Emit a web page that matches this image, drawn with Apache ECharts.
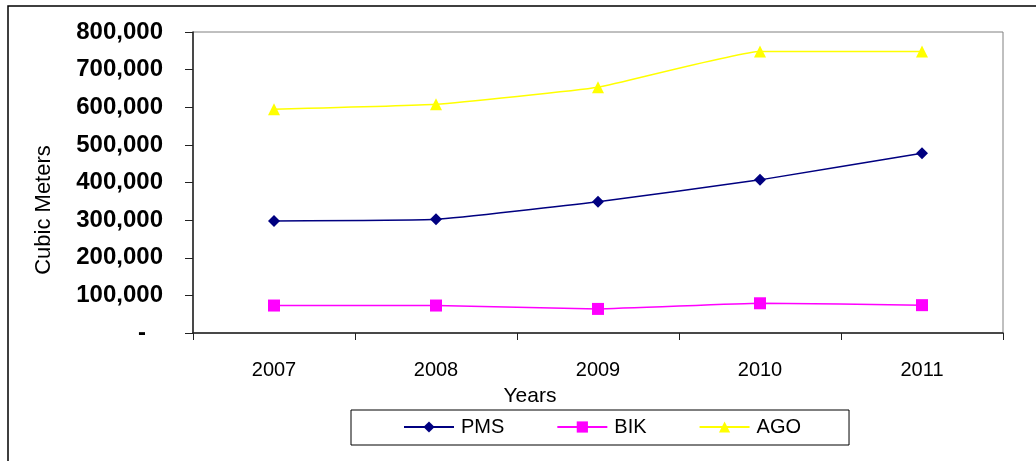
<!DOCTYPE html>
<html>
<head>
<meta charset="utf-8">
<script src="https://cdn.jsdelivr.net/npm/echarts@6/dist/echarts.min.js"></script>
<style>
  html, body { margin: 0; padding: 0; background: #fff; }
  #main { width: 1036px; height: 461px; }
</style>
</head>
<body>
<div id="main"></div>
<script>
// values (cubic meters)
const years = ['2007', '2008', '2009', '2010', '2011'];
const pms = [298000, 302000, 349000, 407000, 478000];
const bik = [73000, 73000, 64000, 79000, 74000];
const ago = [595000, 608000, 653000, 748000, 748000];

const font = 'Liberation Sans, Arial, sans-serif';

const chart = echarts.init(document.getElementById('main'));

function lineSeries(name, data, color, symbol) {
    return {
        name: name,
        type: 'line',
        data: data,
        smooth: 0.12,
        symbol: symbol,
        symbolSize: 12,
        lineStyle: { color: color, width: 1.5 },
        itemStyle: { color: color },
        emphasis: { disabled: true }
    };
}

chart.setOption({
    animation: false,
    backgroundColor: '#fff',
    grid: {
        left: 193, right: 33, top: 32, bottom: 128,
        containLabel: false,
        outerBoundsMode: 'none',
        show: true,
        borderColor: '#808080',
        borderWidth: 1
    },
    xAxis: {
        type: 'category',
        data: years,
        boundaryGap: true,
        axisLine: { lineStyle: { color: '#222', width: 1.5 } },
        axisTick: { show: true, length: 7, lineStyle: { color: '#222' } },
        axisLabel: {
            color: '#000', fontFamily: font, fontSize: 20,
            margin: 27, lineHeight: 20
        }
    },
    yAxis: {
        type: 'value',
        min: 0,
        max: 800000,
        interval: 100000,
        splitLine: { show: false },
        axisLine: { show: true, lineStyle: { color: '#222', width: 1.5 } },
        axisTick: { show: true, length: 8, lineStyle: { color: '#222' } },
        axisLabel: {
            color: '#000', fontFamily: font, fontSize: 24, fontWeight: 'bold',
            margin: 30,
            formatter: function (v) {
                if (v === 0) return '{dash|-}';
                return v.toLocaleString('en-US');
            },
            rich: {
                dash: {
                    fontFamily: font, fontSize: 24, fontWeight: 'bold',
                    color: '#000', padding: [0, 17, 0, 0]
                }
            }
        }
    },
    legend: {
        left: 351,
        top: 410,
        itemWidth: 50,
        itemHeight: 14,
        itemGap: 52,
        padding: [7, 48, 8, 52],
        borderColor: '#000',
        borderWidth: 1,
        textStyle: { color: '#000', fontFamily: font, fontSize: 20, padding: [0, 0, 0, 2] },
        data: ['PMS', 'BIK', 'AGO']
    },
    graphic: [
        {
            type: 'rect',
            shape: { x: 8, y: 6, width: 1200, height: 700 },
            style: { fill: 'none', stroke: '#000', lineWidth: 1.5 },
            silent: true
        },
        {
            type: 'text',
            x: 44, y: 210,
            rotation: Math.PI / 2,
            style: {
                text: 'Cubic Meters', fill: '#000',
                font: '22px ' + font,
                textAlign: 'center', textVerticalAlign: 'middle'
            }
        },
        {
            type: 'text',
            x: 530, y: 396,
            style: {
                text: 'Years', fill: '#000',
                font: '21px ' + font,
                textAlign: 'center', textVerticalAlign: 'middle'
            }
        }
    ],
    series: [
        lineSeries('PMS', pms, '#000080', 'diamond'),
        lineSeries('BIK', bik, '#FF00FF', 'rect'),
        lineSeries('AGO', ago, '#FFFF00', 'triangle')
    ]
});
</script>
</body>
</html>
